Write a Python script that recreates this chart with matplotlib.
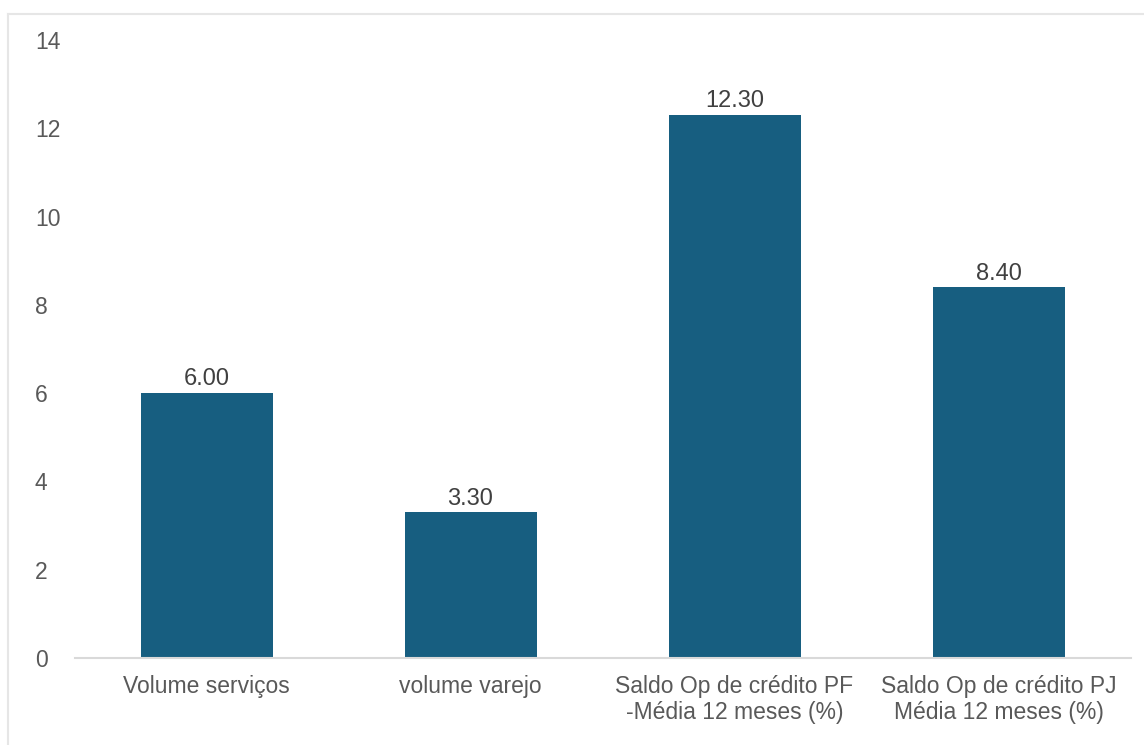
import matplotlib
matplotlib.use("Agg")
from matplotlib import pyplot as plt
from matplotlib.lines import Line2D
import numpy as np

categories = ["Volume serviços", "volume varejo",
              "Saldo Op de crédito PF\n-Média 12 meses (%)",
              "Saldo Op de crédito PJ\nMédia 12 meses (%)"]
values = [6.00, 3.30, 12.30, 8.40]
yticks = [0, 2, 4, 6, 8, 10, 12, 14]

bar_color = "#175e80"
text_color = "#595959"

plt.rcParams['font.family'] = ['Liberation Sans', 'DejaVu Sans']

fig = plt.figure(figsize=(11.44, 7.45), dpi=100)
ax = fig.add_axes([74.5 / 1144, 1 - 658 / 745, 1056 / 1144, 618 / 745])

x = np.arange(len(categories))
bars = ax.bar(x, values, width=0.5, color=bar_color, zorder=2)

for b, v in zip(bars, values):
    ax.text(b.get_x() + b.get_width() / 2, v + 0.06, f"{v:.2f}",
            ha="center", va="bottom", fontsize=17, color="#404040")

ax.set_xlim(-0.5, len(categories) - 0.5)
ax.set_ylim(0, 14)
ax.set_yticks(yticks)
ax.set_xticks(x)
ax.set_xticklabels(categories, fontsize=16.5, color=text_color, linespacing=1.2)
ax.tick_params(axis="x", length=0, pad=12)
ax.tick_params(axis="y", length=0, pad=28.5, labelsize=16.5, labelcolor=text_color)
for lab in ax.get_yticklabels():
    lab.set_horizontalalignment("left")

for s in ["top", "right", "left"]:
    ax.spines[s].set_visible(False)
ax.spines["bottom"].set_color("#d9d9d9")
ax.spines["bottom"].set_linewidth(1.5)

# outer frame (only top and left edges visible in the crop)
fig.add_artist(Line2D([8 / 1144, 1], [1 - 14 / 745, 1 - 14 / 745],
                      transform=fig.transFigure, color="#e6e6e6", lw=1.5))
fig.add_artist(Line2D([8 / 1144, 8 / 1144], [0, 1 - 14 / 745],
                      transform=fig.transFigure, color="#e6e6e6", lw=1.5))

plt.savefig("out.png", dpi=100)
